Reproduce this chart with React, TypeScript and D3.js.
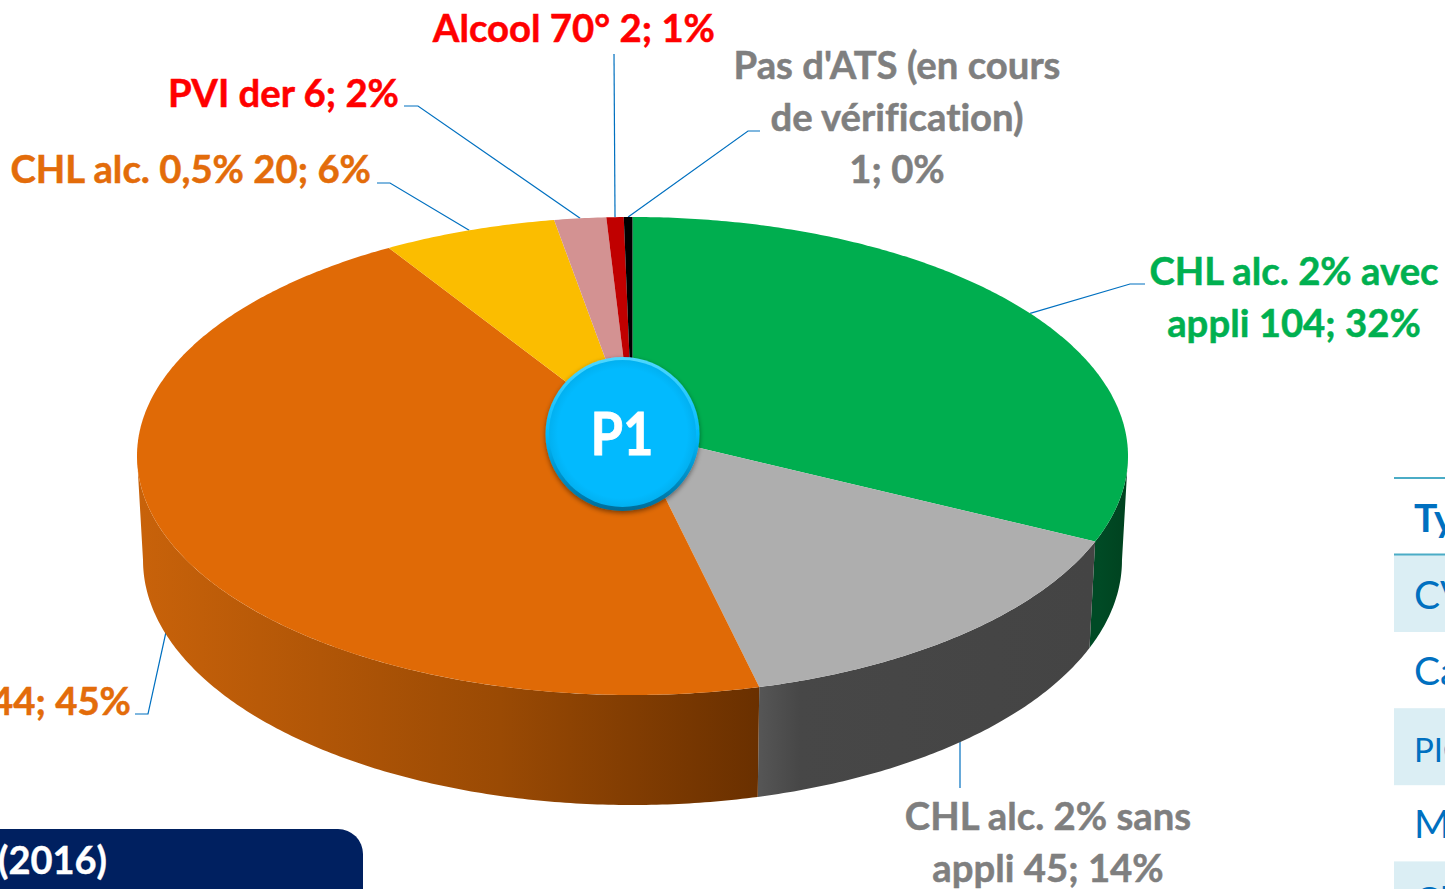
import React from "react";
import * as d3 from "d3";

const categories = ["CHL alc. 2% avec appli", "CHL alc. 2% sans appli", "Autres", "CHL alc. 0,5%", "PVI der", "Alcool 70°", "Pas d'ATS"];
const counts = [104, 45, 144, 20, 6, 2, 1];
const topColors = ["#00AE4F", "#AEAEAE", "#E06A06", "#FBBD00", "#D39292", "#C00000", "#000000"];
const sideLeft = ["#004A25", "#565656", "#C8620A", "#FBBD00", "#D39292", "#C00000", "#000000"];
const sideMid = ["#004A25", "#474747", "#9A4A04", "#FBBD00", "#D39292", "#C00000", "#000000"];
const sideRight = ["#00421F", "#444444", "#6A3000", "#FBBD00", "#D39292", "#C00000", "#000000"];

const labelLines = [
  ["CHL alc. 2% avec", "appli 104; 32%"],
  ["CHL alc. 2% sans", "appli 45; 14%"],
  ["144; 45%"],
  ["CHL alc. 0,5% 20; 6%"],
  ["PVI der 6; 2%"],
  ["Alcool 70° 2; 1%"],
  ["Pas d'ATS (en cours", "de vérification)", "1; 0%"],
];
const labelColors = ["#00B050", "#7F7F7F", "#E36C0A", "#E36C0A", "#FF0000", "#FF0000", "#7F7F7F"];
const labelAnchors: [string, number, number][] = [
  ["middle", 1294, 285],
  ["middle", 1048, 830],
  ["end", 131, 715],
  ["end", 371, 183],
  ["end", 399, 107],
  ["end", 715, 42],
  ["middle", 897, 79],
];
const leaderElbows: [number, number][][] = [
  [[1130, 284], [1145, 284]],
  [[960, 788]],
  [[148, 714], [135, 714]],
  [[390, 183], [377, 183]],
  [[418, 106], [404, 106]],
  [[614, 54]],
  [[748, 131], [760, 131]],
];
const leaderAnchors: ([number, number] | null)[] = [null, [960, 740], [166, 632], null, null, null, null];

const tableRows = ["Type", "CVC", "Cathéter", "PICC", "Midline", "Chambre"];
const footerText = "(2016)";
const buttonText = "P1";

const K = 0.1004;
const project = (a: number, cx: number, scx: number, cy: number, scy: number): [number, number] => {
  const u = Math.sin(a), v = Math.cos(a), den = 1 + K * v;
  return [cx + (scx * u) / den, cy - (scy * v) / den];
};
const topP = (a: number) => project(a, 632.5, 493, 432, 236.6);
const botP = (a: number) => project(a, 632.5, 487, 535.7, 242.3);

const pie = d3.pie<number>().sort(null).startAngle(0).endAngle(2 * Math.PI);
const arcs = pie(counts);
const sample = (a0: number, a1: number) => {
  const n = Math.max(2, Math.ceil(Math.abs(a1 - a0) / 0.01));
  return d3.range(n + 1).map((i) => a0 + ((a1 - a0) * i) / n);
};
const line = d3.line();
const wallLo = Math.acos(-K);
const wallHi = 2 * Math.PI - Math.acos(-K);
const FONT = "Lato, 'Open Sans', sans-serif";
const wallX: [number, number, number][] = [[1089, 1100, 1128], [758, 800, 1090], [140, 500, 758], [0, 1, 2], [0, 1, 2], [0, 1, 2], [0, 1, 2]];

export default function App() {
  return (
    <svg width={1445} height={889} viewBox="0 0 1445 889"
      style={{ position: "fixed", left: 0, top: 0, background: "#fff", fontVariantLigatures: "none" }} fontFamily={FONT}>
      <defs>
        {arcs.map((_, i) => {
          const [x0, xm, x1] = wallX[i];
          return (
            <linearGradient key={i} id={`wall${i}`} gradientUnits="userSpaceOnUse" x1={x0} x2={x1} y1={0} y2={0}>
              <stop offset="0" stopColor={sideLeft[i]} />
              <stop offset={(xm - x0) / (x1 - x0)} stopColor={sideMid[i]} />
              <stop offset="1" stopColor={sideRight[i]} />
            </linearGradient>
          );
        })}
        <radialGradient id="btn" cx="50%" cy="50%" r="50%">
          <stop offset="0.88" stopColor="#02BAFE" />
          <stop offset="1" stopColor="#02B0F0" />
        </radialGradient>
        <linearGradient id="btnRim" x1="0" x2="0" y1="0" y2="1">
          <stop offset="0" stopColor="#4FD8FF" />
          <stop offset="0.5" stopColor="#02BAFE" />
          <stop offset="1" stopColor="#056C98" />
        </linearGradient>
        <filter id="btnShadow" x="-20%" y="-20%" width="140%" height="140%">
          <feDropShadow dx="0" dy="2" stdDeviation="2.5" floodColor="#000" floodOpacity="0.45" />
        </filter>
      </defs>

      {/* table */}
      <g>
        {tableRows.slice(1).map((_, i) => i % 2 === 0 && (
          <rect key={i} x={1394} y={555 + i * 76.6} width={51} height={i === 4 ? 40 : 77} fill="#DBEEF4" />
        ))}
        <line x1={1394} x2={1445} y1={478} y2={478} stroke="#4BACC6" strokeWidth={2} />
        <line x1={1394} x2={1445} y1={554.5} y2={554.5} stroke="#4BACC6" strokeWidth={2} />
        {tableRows.map((t, i) => (
          <text key={t} x={1414} y={532 + i * 76.6} fontSize={i === 3 ? 33 : 39}
            fontWeight={i === 0 ? 700 : 400} fill="#0070C0">{t}</text>
        ))}
      </g>

      {/* leaders */}
      {arcs.map((d, i) => {
        const mid = (d.startAngle + d.endAngle) / 2;
        const start = leaderAnchors[i] ?? topP(mid);
        return <path key={i} d={line([start, ...leaderElbows[i]]) ?? ""} fill="none" stroke="#0070C0" strokeWidth={1.2} />;
      })}

      {/* walls */}
      {arcs.map((d, i) => {
        const a0 = Math.max(d.startAngle, wallLo), a1 = Math.min(d.endAngle, wallHi);
        if (a1 <= a0) return null;
        const as = sample(a0, a1);
        const pts = [...as.map(topP), ...as.slice().reverse().map(botP)];
        return <path key={i} d={(line(pts) ?? "") + "Z"} fill={`url(#wall${i})`} />;
      })}

      {/* top faces */}
      {arcs.map((d, i) => {
        const pts = [[632.5, 432] as [number, number], ...sample(d.startAngle, d.endAngle).map(topP)];
        return <path key={i} d={(line(pts) ?? "") + "Z"} fill={topColors[i]} />;
      })}

      {/* labels */}
      {labelLines.map((ls, i) => (
        <text key={i} textAnchor={labelAnchors[i][0]} fontSize={38.3} fontWeight={700} fill={labelColors[i]}
          stroke={labelColors[i]} strokeWidth={0.5}>
          {ls.map((t, j) => (
            <tspan key={j} x={labelAnchors[i][1]} y={labelAnchors[i][2] + j * 52.2}>{t}</tspan>
          ))}
        </text>
      ))}

      {/* centre button */}
      <circle cx={622.5} cy={434} r={77} fill="url(#btnRim)" filter="url(#btnShadow)" />
      <circle cx={622.5} cy={433.5} r={73.5} fill="url(#btn)" />
      <text x={622} y={455} textAnchor="middle" fontSize={60} fontWeight={700} fill="#fff" stroke="#fff" strokeWidth={0.8}
        textLength={63} lengthAdjust="spacingAndGlyphs">{buttonText}</text>

      {/* footer */}
      <path d="M-30 889V829H338a25 25 0 0 1 25 25V889Z" fill="#002060" />
      <text x={107} y={874} textAnchor="end" fontSize={38} fontWeight={700} fill="#fff" stroke="#fff" strokeWidth={0.4}>{footerText}</text>
    </svg>
  );
}
